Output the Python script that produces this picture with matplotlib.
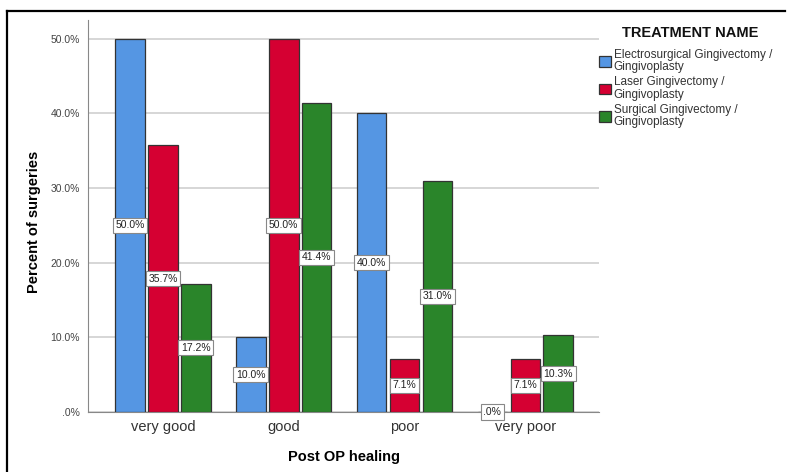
import numpy as np
import matplotlib.pyplot as plt
from matplotlib.lines import Line2D

plt.rcParams['font.family'] = ['Liberation Sans', 'DejaVu Sans']

categories = ["very good", "good", "poor", "very poor"]
series_names = ["Electrosurgical Gingivectomy /\nGingivoplasty",
                "Laser Gingivectomy /\nGingivoplasty",
                "Surgical Gingivectomy /\nGingivoplasty"]
electro = [50.0, 10.0, 40.0, 0.0]
laser = [35.7, 50.0, 7.1, 7.1]
surgical = [17.2, 41.4, 31.0, 10.3]
colors = ["#5596e3", "#d50032", "#2a852a"]
yticks = [0, 10, 20, 30, 40, 50]
ytick_labels = [".0%", "10.0%", "20.0%", "30.0%", "40.0%", "50.0%"]

fig = plt.figure(figsize=(7.87, 4.72), dpi=100)
ax = fig.add_axes([88 / 787, 1 - 412 / 472, (599 - 88) / 787, (412 - 20) / 472])

x = np.arange(len(categories))
step = 0.273
width = 0.245
for i, (vals, col, name) in enumerate(zip([electro, laser, surgical], colors, series_names)):
    pos = x + (i - 1) * step
    ax.bar(pos, vals, width, color=col, edgecolor="#333333", linewidth=0.9, label=name, zorder=3)
    for px, v in zip(pos, vals):
        ax.text(px, v / 2, f"{v:.1f}%" if v > 0 else ".0%", ha="center", va="center",
                fontsize=7.5, color="#222222", zorder=5,
                bbox=dict(boxstyle="square,pad=0.25", fc="white", ec="#888888", lw=0.8))

ax.set_xlim(-0.62, 3.61)
ax.set_ylim(0, 52.5)
ax.set_yticks(yticks)
ax.set_yticklabels(ytick_labels, fontsize=7.5, color="#444444")
ax.set_xticks(x)
ax.set_xticklabels(categories, fontsize=10.5, color="#333333")
ax.tick_params(axis="both", length=0, pad=6)
ax.yaxis.grid(True, color="#d0d0d0", linewidth=1.2, zorder=0)
ax.set_axisbelow(True)
for s in ["top", "right"]:
    ax.spines[s].set_visible(False)
ax.spines["left"].set_color("#888888")
ax.spines["bottom"].set_color("#888888")
ax.set_ylabel("Percent of surgeries", fontsize=10.5, fontweight="bold")
ax.yaxis.set_label_coords(-0.092, 0.485)
ax.set_xlabel("Post OP healing", fontsize=10.5, fontweight="bold", labelpad=11)

# legend title drawn on its own so the entries can sit a bit lower
fig.text(690 / 787, 1 - 33 / 472, "TREATMENT NAME", ha="center", va="center",
         fontsize=10.5, fontweight="bold", color="#111111")
leg = ax.legend(loc="upper left", bbox_to_anchor=(1.0, 0.926), frameon=False, fontsize=8.5,
                handlelength=1.0, handleheight=1.0, handletextpad=0.25, labelspacing=0.25,
                borderaxespad=0.0, borderpad=0.0)
for t in leg.get_texts():
    t.set_color("#333333")
    t.set_linespacing(1.05)

# frame lines of the screenshot
fig.add_artist(Line2D([7 / 787, 785 / 787], [1 - 11 / 472, 1 - 11 / 472], color="black", lw=1.6))
fig.add_artist(Line2D([7 / 787, 7 / 787], [1 - 11 / 472, 0], color="black", lw=1.6))

plt.savefig("out.png", dpi=100)
